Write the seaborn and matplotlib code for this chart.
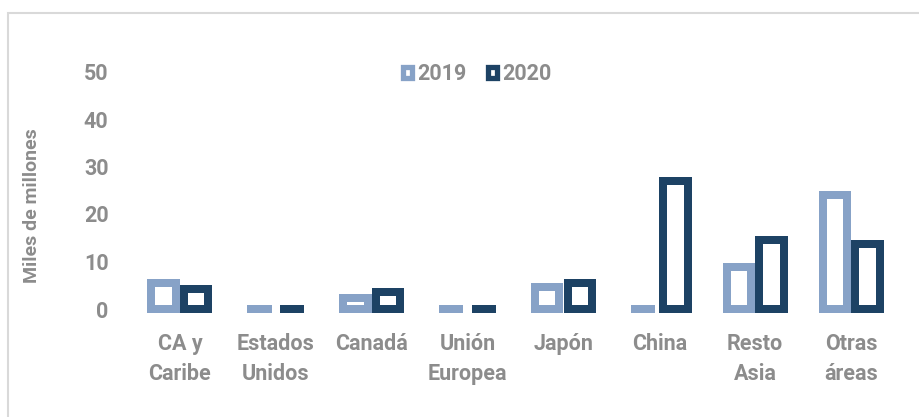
import matplotlib.pyplot as plt
import seaborn as sns
import pandas as pd
from matplotlib.patches import Patch, Rectangle

# data (miles de millones)
regiones = ["CA y\nCaribe", "Estados\nUnidos", "Canadá", "Unión\nEuropea",
            "Japón", "China", "Resto\nAsia", "Otras\náreas"]
v2019 = [5.4, 0.0, 2.4, 0.0, 4.6, 0.0, 8.8, 24.1]
v2020 = [4.2, 0.0, 3.6, 0.0, 5.5, 26.9, 14.5, 13.7]
anios = ["2019", "2020"]
yticks = [0, 10, 20, 30, 40, 50]

colores = {"2019": "#87A2C7", "2020": "#1D4264"}
gris = "#8C8C8C"

df = pd.DataFrame({
    "region": regiones * 2,
    "valor": v2019 + v2020,
    "anio": [anios[0]] * len(regiones) + [anios[1]] * len(regiones),
})

sns.set_style("white")
plt.rcParams["font.family"] = ["Roboto", "DejaVu Sans"]
plt.rcParams["font.weight"] = "bold"

fig = plt.figure(figsize=(9.19, 4.17), dpi=100)
ax = fig.add_axes([132 / 919, 1 - 309 / 417, (899 - 132) / 919, (309 - 71.5) / 417])

sns.barplot(data=df, x="region", y="valor", hue="anio", palette=colores,
            fill=False, width=0.678, gap=0.25, linewidth=5.76, legend=False, ax=ax)
for p in ax.patches:
    p.set_clip_on(False)
    p.set_joinstyle("miter")

ax.set_xlim(-0.5, len(regiones) - 0.5)
ax.set_ylim(0, 50)
ax.set_yticks(yticks)
ax.set_yticklabels([str(t) for t in yticks])
ax.tick_params(axis="y", length=0, pad=17, labelsize=15.5, labelcolor=gris)
ax.tick_params(axis="x", length=0, pad=17, labelsize=15.5, labelcolor=gris)
for lbl in ax.get_xticklabels():
    lbl.set_linespacing(1.5)
    lbl.set_fontweight("bold")
for lbl in ax.get_yticklabels():
    lbl.set_fontweight("bold")
ax.set_xlabel("")
ax.set_ylabel("Miles de millones", fontsize=14, color=gris, fontweight="bold", labelpad=0)
ax.yaxis.set_label_coords(-(132 - 41) / 767, (309 - 206) / 237.5)
sns.despine(ax=ax, left=True, bottom=True)

handles = [Patch(facecolor="white", edgecolor=colores[a], linewidth=3.8, label=a) for a in anios]
leg = ax.legend(handles=handles, loc="center", bbox_to_anchor=((477 - 132) / 767, (309 - 74) / 237.5),
                ncol=2, frameon=False, fontsize=15.5, handlelength=0.42, handleheight=0.42,
                handletextpad=0.25, columnspacing=1.0)
for t in leg.get_texts():
    t.set_color(gris)
    t.set_fontweight("bold")

# light frame around the chart
fig.patches.append(Rectangle((8 / 919, -0.2), 1.2, 1.2 - 13 / 417, transform=fig.transFigure,
                             fill=False, edgecolor="#D9D9D9", linewidth=1.5, zorder=0))

fig.savefig("out.png", dpi=100)
